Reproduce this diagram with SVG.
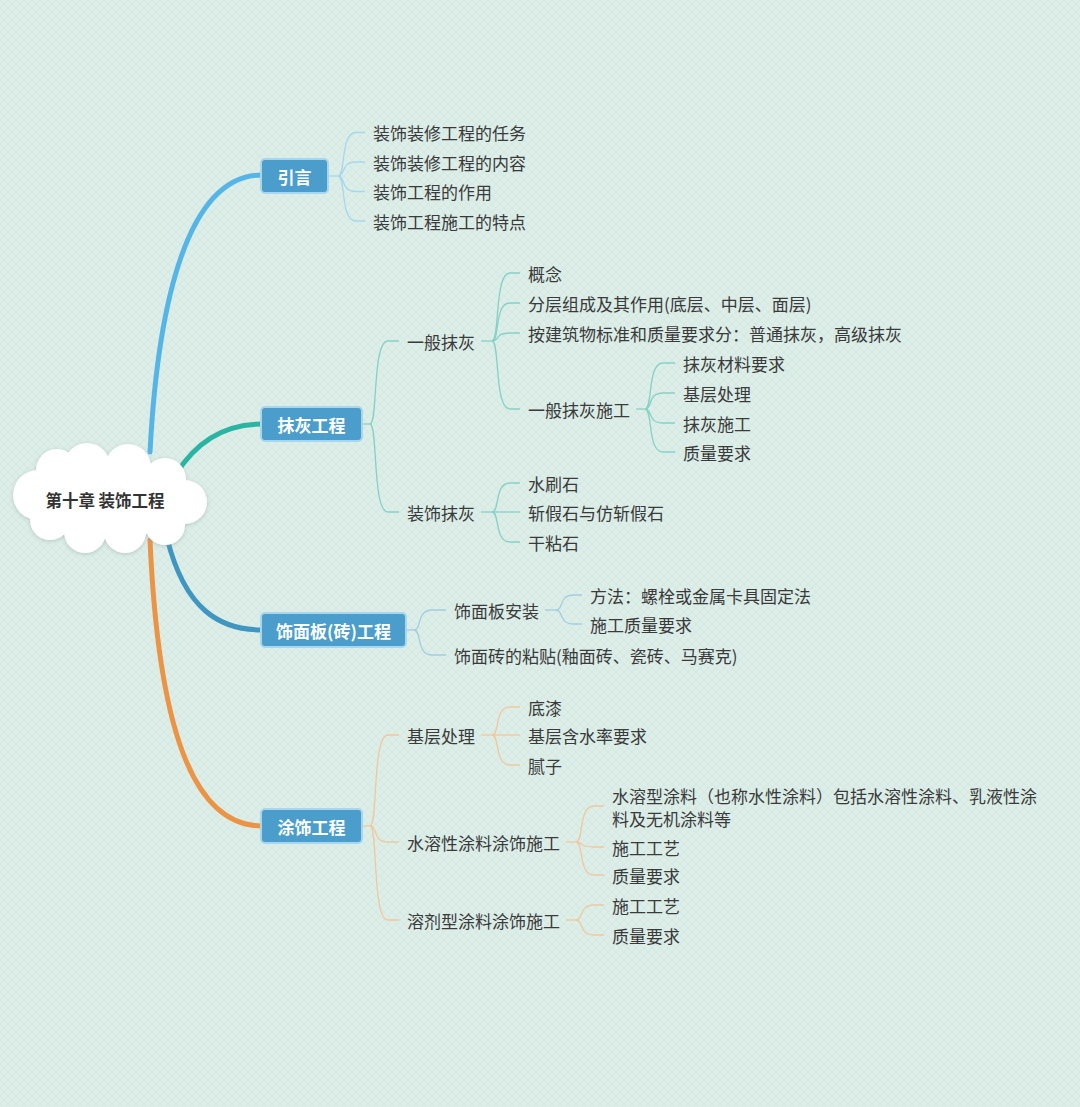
<svg xmlns="http://www.w3.org/2000/svg" width="1080" height="1107" viewBox="0 0 1080 1107">
<defs>
<pattern id="bgp" width="8" height="8" patternUnits="userSpaceOnUse">
<rect width="8" height="8" fill="#ddeee9"/>
<path d="M0,8 L8,0 M0,0 L8,8" stroke="#d2e6e0" stroke-width="0.8"/>
</pattern>
<filter id="sh" x="-20%" y="-20%" width="140%" height="140%">
<feDropShadow dx="0" dy="1" stdDeviation="2" flood-color="#8a9a96" flood-opacity="0.45"/>
</filter>
</defs>
<style>
text{font-family:"Noto Sans CJK SC","Noto Sans",sans-serif;dominant-baseline:central}
.t{font-size:17px;fill:#3a3a3a}
.mt{font-size:17px;fill:#ffffff;font-weight:bold;text-anchor:middle}
.box{fill:#4b9dcc;stroke:#a8d6ee;stroke-width:2}
.main{fill:none;stroke-width:5;stroke-linecap:round}
.sub{fill:none;stroke-width:1.3}
.c1{stroke:#a6d7ec}
.c2{stroke:#85d1c6}
.c3{stroke:#a3cde0}
.c4{stroke:#f0c89e}
</style>
<rect width="1080" height="1107" fill="url(#bgp)"/>

<g id="connectors">
<path class="main" stroke="#55b5e7" d="M150,452 C158,300 188,175 262,175"/>
<path class="main" stroke="#2ab4a2" d="M176,474 C196,442 225,424 262,424"/>
<path class="main" stroke="#3f96c1" d="M167,538 C185,610 220,630 262,630"/>
<path class="main" stroke="#ec9445" d="M150,540 C158,720 190,826 262,826"/>

<g class="sub c1">
<path d="M328,176 H338"/>
<path d="M338,176 C346,176 340,132.5 356,132.5 H365"/>
<path d="M338,176 C346,176 340,162 356,162 H365"/>
<path d="M338,176 C346,176 340,191.5 356,191.5 H365"/>
<path d="M338,176 C346,176 340,221 356,221 H365"/>
</g>
<g class="sub c2">
<path d="M362,424 H370"/>
<path d="M370,424 C378,424 372,341 388,341 H399"/>
<path d="M370,424 C378,424 372,512 388,512 H399"/>
<path d="M481,341 H492"/>
<path d="M492,341 C500,341 494,273 510,273 H520"/>
<path d="M492,341 C500,341 494,303 510,303 H520"/>
<path d="M492,341 C500,341 494,333 510,333 H520"/>
<path d="M492,341 C500,341 494,409 510,409 H520"/>
<path d="M636,409 H645"/>
<path d="M645,409 C653,409 647,363 663,363 H675"/>
<path d="M645,409 C653,409 647,393 663,393 H675"/>
<path d="M645,409 C653,409 647,423 663,423 H675"/>
<path d="M645,409 C653,409 647,452 663,452 H675"/>
<path d="M481,512 H492"/>
<path d="M492,512 C500,512 494,483 510,483 H520"/>
<path d="M492,512 H520"/>
<path d="M492,512 C500,512 494,542 510,542 H520"/>
</g>
<g class="sub c3">
<path d="M406,630 H414"/>
<path d="M414,630 C422,630 416,610 432,610 H446"/>
<path d="M414,630 C422,630 416,655 432,655 H446"/>
<path d="M545,610 H556"/>
<path d="M556,610 C564,610 558,595 574,595 H582"/>
<path d="M556,610 C564,610 558,624 574,624 H582"/>
</g>
<g class="sub c4">
<path d="M362,826 H370"/>
<path d="M370,826 C378,826 372,735 388,735 H399"/>
<path d="M370,826 C378,826 372,842 388,842 H399"/>
<path d="M370,826 C378,826 372,920 388,920 H399"/>
<path d="M481,735 H492"/>
<path d="M492,735 C500,735 494,707 510,707 H520"/>
<path d="M492,735 H520"/>
<path d="M492,735 C500,735 494,765 510,765 H520"/>
<path d="M566,842 H576"/>
<path d="M576,842 C584,842 578,806 594,806 H604"/>
<path d="M576,842 C584,842 578,847 594,847 H604"/>
<path d="M576,842 C584,842 578,875 594,875 H604"/>
<path d="M566,920 H576"/>
<path d="M576,920 C584,920 578,905 594,905 H604"/>
<path d="M576,920 C584,920 578,935 594,935 H604"/>
</g>
</g>

<g id="root">
<g fill="#ffffff" filter="url(#sh)">
<circle cx="38" cy="495" r="25"/>
<circle cx="57" cy="470" r="21"/>
<circle cx="87" cy="466" r="23"/>
<circle cx="128" cy="467" r="23"/>
<circle cx="165" cy="479" r="21"/>
<circle cx="185" cy="502" r="22"/>
<circle cx="165" cy="525" r="20"/>
<circle cx="125" cy="532" r="21"/>
<circle cx="85" cy="532" r="21"/>
<circle cx="50" cy="520" r="20"/>
<ellipse cx="110" cy="500" rx="80" ry="38"/>
</g>
<text x="105" y="500" style="font-size:16.5px;font-weight:bold;fill:#333;text-anchor:middle">第十章 装饰工程</text>
</g>

<g id="n-yinyan">
<rect class="box" x="261" y="159" width="67" height="34" rx="4"/>
<text class="mt" x="294.5" y="176">引言</text>
</g>
<g id="n-yinyan-1"><text class="t" x="373" y="132.5">装饰装修工程的任务</text></g>
<g id="n-yinyan-2"><text class="t" x="373" y="162">装饰装修工程的内容</text></g>
<g id="n-yinyan-3"><text class="t" x="373" y="191.5">装饰工程的作用</text></g>
<g id="n-yinyan-4"><text class="t" x="373" y="221">装饰工程施工的特点</text></g>

<g id="n-mohui">
<rect class="box" x="261" y="407" width="101" height="34" rx="4"/>
<text class="mt" x="311.5" y="424">抹灰工程</text>
</g>
<g id="n-ybmh"><text class="t" x="407" y="341">一般抹灰</text></g>
<g id="n-ybmh-1"><text class="t" x="528" y="273">概念</text></g>
<g id="n-ybmh-2"><text class="t" x="528" y="303">分层组成及其作用(底层、中层、面层)</text></g>
<g id="n-ybmh-3"><text class="t" x="528" y="333">按建筑物标准和质量要求分：普通抹灰，高级抹灰</text></g>
<g id="n-ybmhsg"><text class="t" x="528" y="409">一般抹灰施工</text></g>
<g id="n-sg-1"><text class="t" x="683" y="363">抹灰材料要求</text></g>
<g id="n-sg-2"><text class="t" x="683" y="393">基层处理</text></g>
<g id="n-sg-3"><text class="t" x="683" y="423">抹灰施工</text></g>
<g id="n-sg-4"><text class="t" x="683" y="452">质量要求</text></g>
<g id="n-zsmh"><text class="t" x="407" y="512">装饰抹灰</text></g>
<g id="n-zsmh-1"><text class="t" x="528" y="483">水刷石</text></g>
<g id="n-zsmh-2"><text class="t" x="528" y="512">斩假石与仿斩假石</text></g>
<g id="n-zsmh-3"><text class="t" x="528" y="542">干粘石</text></g>

<g id="n-shimian">
<rect class="box" x="261" y="613" width="145" height="34" rx="4"/>
<text class="mt" x="333.5" y="630">饰面板(砖)工程</text>
</g>
<g id="n-smbaz"><text class="t" x="454" y="610">饰面板安装</text></g>
<g id="n-smbaz-1"><text class="t" x="590" y="595">方法：螺栓或金属卡具固定法</text></g>
<g id="n-smbaz-2"><text class="t" x="590" y="624">施工质量要求</text></g>
<g id="n-smz"><text class="t" x="454" y="655">饰面砖的粘贴(釉面砖、瓷砖、马赛克)</text></g>

<g id="n-tushi">
<rect class="box" x="261" y="809" width="101" height="34" rx="4"/>
<text class="mt" x="311.5" y="826">涂饰工程</text>
</g>
<g id="n-jccl"><text class="t" x="407" y="735">基层处理</text></g>
<g id="n-jccl-1"><text class="t" x="528" y="707">底漆</text></g>
<g id="n-jccl-2"><text class="t" x="528" y="735">基层含水率要求</text></g>
<g id="n-jccl-3"><text class="t" x="528" y="765">腻子</text></g>
<g id="n-sr"><text class="t" x="407" y="842">水溶性涂料涂饰施工</text></g>
<g id="n-sr-1"><text class="t" x="612" y="795">水溶型涂料（也称水性涂料）包括水溶性涂料、乳液性涂</text><text class="t" x="612" y="818">料及无机涂料等</text></g>
<g id="n-sr-2"><text class="t" x="612" y="847">施工工艺</text></g>
<g id="n-sr-3"><text class="t" x="612" y="875">质量要求</text></g>
<g id="n-rj"><text class="t" x="407" y="920">溶剂型涂料涂饰施工</text></g>
<g id="n-rj-1"><text class="t" x="612" y="905">施工工艺</text></g>
<g id="n-rj-2"><text class="t" x="612" y="935">质量要求</text></g>
</svg>
